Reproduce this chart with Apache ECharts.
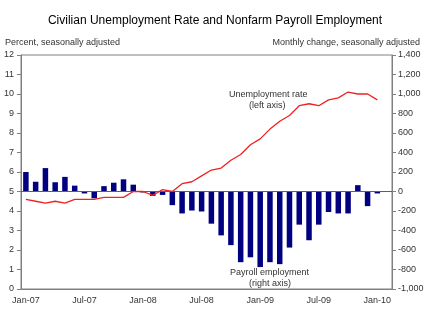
<!DOCTYPE html>
<html>
<head>
<meta charset="utf-8">
<script src="https://cdn.jsdelivr.net/npm/echarts@6/dist/echarts.min.js"></script>
<style>
  html, body { margin: 0; padding: 0; background: #fff; }
  #chart { width: 430px; height: 313px; }
</style>
</head>
<body>
<div id="chart"></div>
<script>
// months Jan-07 .. Jan-10, plus one empty slot after
let months = ['Jan-07', 'Feb-07', 'Mar-07', 'Apr-07', 'May-07', 'Jun-07', 'Jul-07', 'Aug-07', 'Sep-07', 'Oct-07', 'Nov-07', 'Dec-07',
  'Jan-08', 'Feb-08', 'Mar-08', 'Apr-08', 'May-08', 'Jun-08', 'Jul-08', 'Aug-08', 'Sep-08', 'Oct-08', 'Nov-08', 'Dec-08',
  'Jan-09', 'Feb-09', 'Mar-09', 'Apr-09', 'May-09', 'Jun-09', 'Jul-09', 'Aug-09', 'Sep-09', 'Oct-09', 'Nov-09', 'Dec-09',
  'Jan-10', 'Feb-10']

// unemployment rate, percent (left axis)
let unemploymentRate = [4.6, 4.5, 4.4, 4.5, 4.4, 4.6, 4.6, 4.6, 4.7, 4.7, 4.7, 5.0,
  5.0, 4.8, 5.1, 5.0, 5.4, 5.5, 5.8, 6.1, 6.2, 6.6, 6.9, 7.4,
  7.7, 8.2, 8.6, 8.9, 9.4, 9.5, 9.4, 9.7, 9.8, 10.1, 10.0, 10.0,
  9.7, null]

// payroll employment, monthly change in thousands (right axis)
let payrollChange = [200, 100, 240, 95, 150, 60, -20, -70, 55, 90, 125, 70,
  -10, -45, -35, -140, -225, -195, -205, -330, -450, -550, -725, -675,
  -775, -725, -745, -575, -340, -500, -340, -210, -225, -225, 65, -150,
  -20, null]

let leftTicks = {min: 0, max: 12, interval: 1}
let rightTicks = {min: -1000, max: 1400, interval: 200}

let myChart = echarts.init(document.getElementById('chart'))
let font = 'Liberation Sans, Arial, sans-serif'
let option = {
  animation: false,
  textStyle: {fontFamily: font},
  title: {
    text: 'Civilian Unemployment Rate and Nonfarm Payroll Employment',
    left: 'center',
    top: 10,
    textStyle: {fontSize: 12, fontWeight: 'normal', color: '#000', fontFamily: font}
  },
  grid: {
    left: 21,
    right: 38,
    top: 55,
    bottom: 24,
    show: true,
    borderColor: '#808080',
    borderWidth: 1
  },
  xAxis: {
    type: 'category',
    data: months,
    boundaryGap: true,
    axisLine: {onZero: false, lineStyle: {color: '#808080'}},
    axisTick: {show: false},
    axisLabel: {interval: 5, color: '#333', fontSize: 9, margin: 7, fontFamily: font},
    splitLine: {show: false}
  },
  yAxis: [
    {
      type: 'value',
      name: 'Percent, seasonally adjusted',
      nameLocation: 'end',
      nameGap: 8,
      nameTextStyle: {color: '#333', fontSize: 9, align: 'left', padding: [0, 0, 0, -16]},
      min: leftTicks.min,
      max: leftTicks.max,
      interval: leftTicks.interval,
      position: 'left',
      axisLine: {show: true, lineStyle: {color: '#808080'}},
      axisTick: {show: true, length: 4, lineStyle: {color: '#808080'}},
      axisLabel: {color: '#333', fontSize: 9, margin: 7, fontFamily: font},
      splitLine: {show: false}
    },
    {
      type: 'value',
      name: 'Monthly change, seasonally adjusted',
      nameLocation: 'end',
      nameGap: 8,
      nameTextStyle: {color: '#333', fontSize: 9, align: 'right', padding: [0, -28, 0, 0]},
      min: rightTicks.min,
      max: rightTicks.max,
      interval: rightTicks.interval,
      position: 'right',
      axisLine: {show: true, lineStyle: {color: '#808080'}},
      axisTick: {show: true, length: 4, lineStyle: {color: '#808080'}},
      axisLabel: {
        color: '#333', fontSize: 9, margin: 6, fontFamily: font,
        formatter: v => v.toLocaleString('en-US')
      },
      splitLine: {show: false}
    }
  ],
  series: [
    {
      name: 'Payroll employment',
      type: 'bar',
      yAxisIndex: 1,
      data: payrollChange,
      barWidth: 5.5,
      itemStyle: {color: '#000080'},
      markLine: {
        silent: true,
        symbol: 'none',
        label: {show: false},
        lineStyle: {color: '#606060', width: 1, type: 'solid'},
        data: [{yAxis: 0}]
      },
      z: 2
    },
    {
      name: 'Unemployment rate',
      type: 'line',
      yAxisIndex: 0,
      data: unemploymentRate,
      symbol: 'none',
      lineStyle: {color: '#ee2222', width: 1.3},
      z: 3
    }
  ],
  graphic: [
    {
      type: 'text', left: 229, top: 90,
      style: {text: 'Unemployment rate', fontSize: 9, fill: '#333', font: '9px ' + font}
    },
    {
      type: 'text', left: 249, top: 101,
      style: {text: '(left axis)', fontSize: 9, fill: '#333', font: '9px ' + font}
    },
    {
      type: 'text', left: 230, top: 268,
      style: {text: 'Payroll employment', fontSize: 9, fill: '#333', font: '9px ' + font}
    },
    {
      type: 'text', left: 249, top: 279,
      style: {text: '(right axis)', fontSize: 9, fill: '#333', font: '9px ' + font}
    }
  ]
}
myChart.setOption(option)
</script>
</body>
</html>
